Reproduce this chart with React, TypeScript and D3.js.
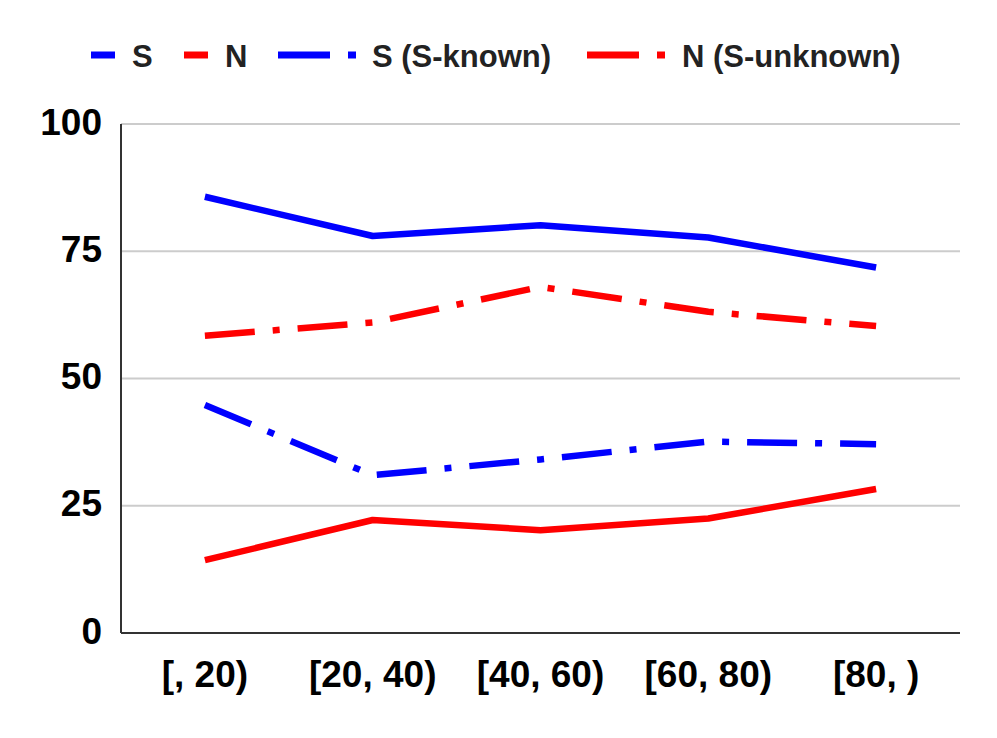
import React from "react";
import * as d3 from "d3";

const categories = ["[, 20)", "[20, 40)", "[40, 60)", "[60, 80)", "[80, )"];
const sValues = [85.7, 78.0, 80.1, 77.7, 71.8];
const nValues = [14.3, 22.2, 20.2, 22.5, 28.3];
const sKnownValues = [44.8, 31.0, 34.1, 37.6, 37.1];
const nUnknownValues = [58.4, 61.0, 68.0, 63.1, 60.3];
const yTicks = [0, 25, 50, 75, 100];

const seriesNames = ["S", "N", "S (S-known)", "N (S-unknown)"];

export default function App() {
  const W = 997, H = 738;
  const left = 121, right = 960, top = 124, bottom = 633;
  const x = d3.scalePoint<string>().domain(categories).range([left, right]).padding(0.5);
  const y = d3.scaleLinear().domain([0, 100]).range([bottom, top]);
  const line = d3.line<number>().x((_, i) => x(categories[i]) as number).y((d) => y(d));
  const dashDot = "50,18,7,18";
  const series = [
    { name: seriesNames[0], values: sValues, color: "#0000ff", dash: undefined as string | undefined },
    { name: seriesNames[1], values: nValues, color: "#ff0000", dash: undefined },
    { name: seriesNames[2], values: sKnownValues, color: "#0000ff", dash: dashDot },
    { name: seriesNames[3], values: nUnknownValues, color: "#ff0000", dash: dashDot },
  ];
  const legend = [
    { x1: 91, x2: 115, tx: 132, color: "#0000ff", dash: undefined as string | undefined, label: seriesNames[0] },
    { x1: 184, x2: 208, tx: 225, color: "#ff0000", dash: undefined, label: seriesNames[1] },
    { x1: 278, x2: 356, tx: 372, color: "#0000ff", dash: "52,18,8,18", label: seriesNames[2] },
    { x1: 587, x2: 665, tx: 682, color: "#ff0000", dash: "52,18,8,18", label: seriesNames[3] },
  ];
  const font = "'Liberation Sans', Arial, sans-serif";
  return (
    <svg width={W} height={H} style={{ position: "absolute", left: 0, top: 0, background: "#fff" }}>
      <rect width={W} height={H} fill="#fff" />
      {yTicks.filter((t) => t > 0).map((t) => (
        <line key={t} x1={left} x2={right} y1={y(t)} y2={y(t)} stroke="#cccccc" strokeWidth={2} />
      ))}
      <line x1={left} x2={left} y1={top} y2={bottom} stroke="#333" strokeWidth={2} />
      <line x1={left} x2={right} y1={bottom} y2={bottom} stroke="#333" strokeWidth={2} />
      {yTicks.map((t) => (
        <text key={t} x={102} y={y(t) - 2} textAnchor="end" dominantBaseline="central"
          fontFamily={font} fontWeight="bold" fontSize={37} fill="#000">{t}</text>
      ))}
      {categories.map((c) => (
        <text key={c} x={x(c)} y={674} textAnchor="middle" dominantBaseline="central"
          fontFamily={font} fontWeight="bold" fontSize={37} fill="#000">{c}</text>
      ))}
      {series.map((s) => (
        <path key={s.name} d={line(s.values) || ""} fill="none" stroke={s.color} strokeWidth={6.5}
          strokeDasharray={s.dash} strokeLinejoin="round" />
      ))}
      {legend.map((l) => (
        <g key={l.label}>
          <line x1={l.x1} x2={l.x2} y1={55} y2={55} stroke={l.color} strokeWidth={7} strokeDasharray={l.dash} />
          <text x={l.tx} y={56} dominantBaseline="central" fontFamily={font} fontWeight="bold" fontSize={31} fill="#222">{l.label}</text>
        </g>
      ))}
    </svg>
  );
}
